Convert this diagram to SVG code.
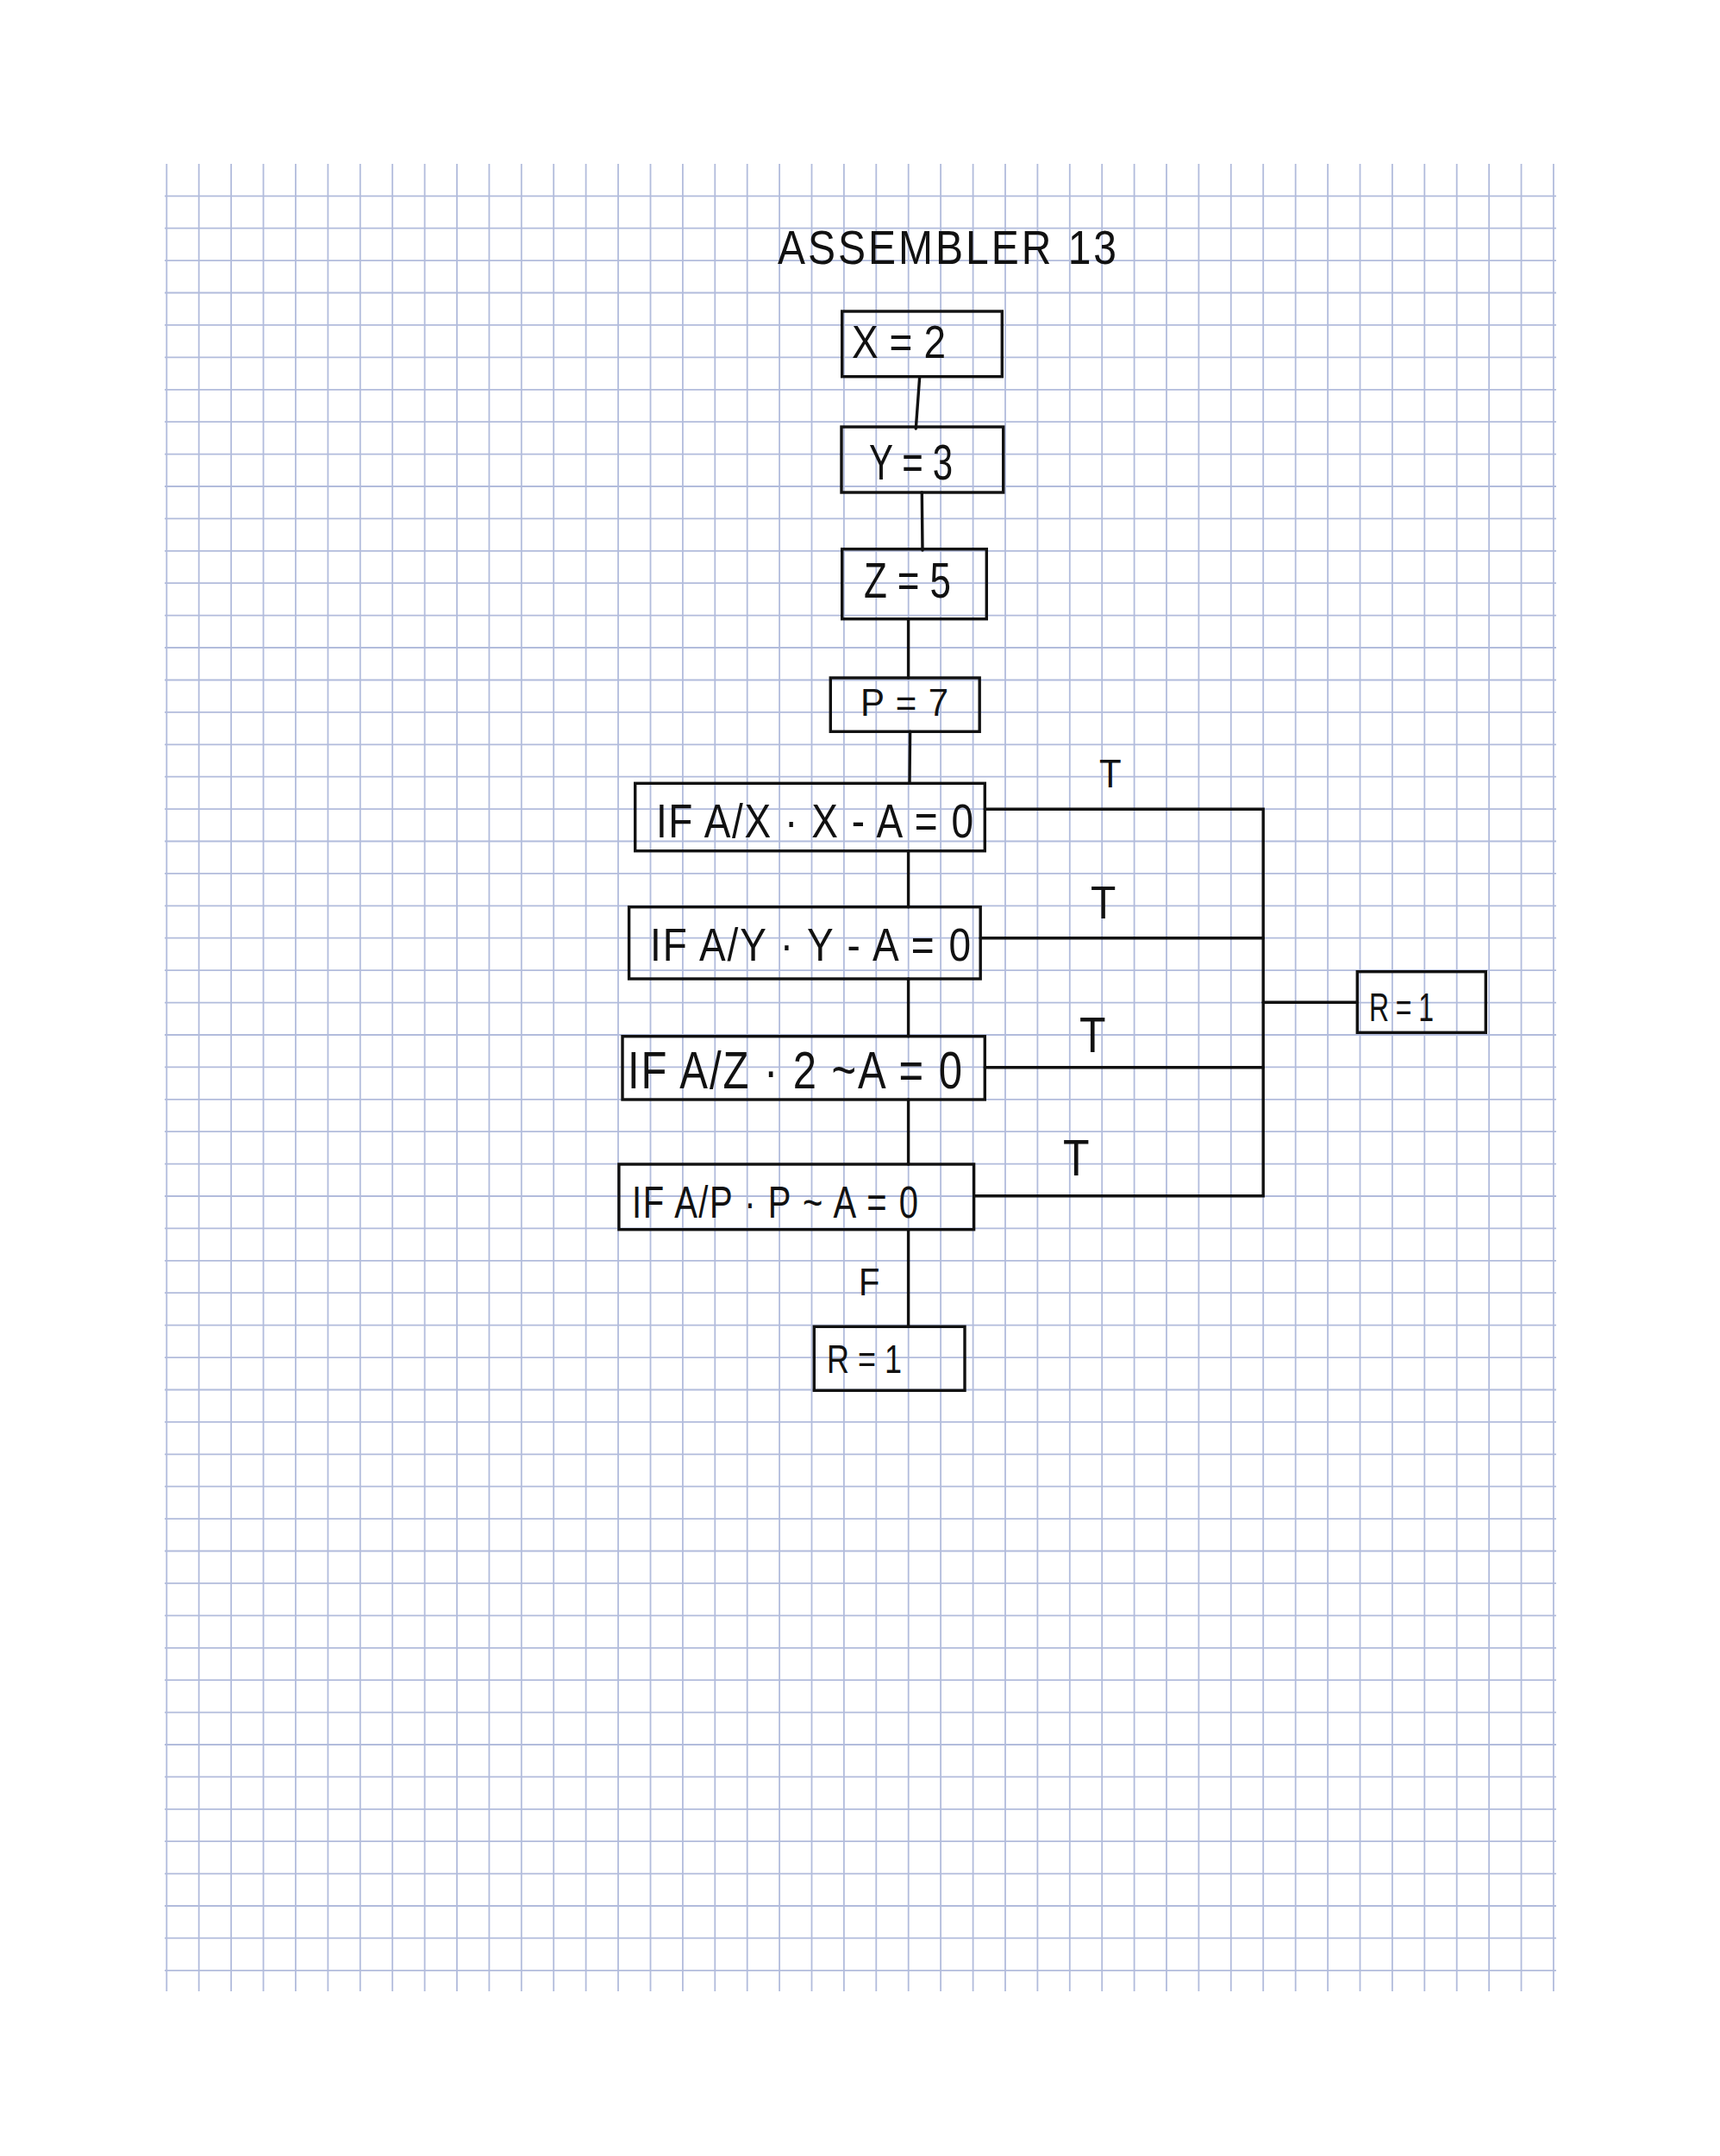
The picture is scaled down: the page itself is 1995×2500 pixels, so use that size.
<svg xmlns="http://www.w3.org/2000/svg" width="1995" height="2500" viewBox="0 0 1995 2500">
<style>
.grid{stroke:#b2bcdc;stroke-width:1.8;fill:none}
.box{fill:none;stroke:#111;stroke-width:3.4}
.edge{fill:none;stroke:#111;stroke-width:3.4;stroke-linecap:round}
.t{font-family:"Liberation Sans",Arial,sans-serif;fill:#111}
</style>
<rect width="1995" height="2500" fill="#ffffff"/>
<g id="grid">
<path class="grid" d="M193.3 190V2309M230.7 190V2309M268.1 190V2309M305.5 190V2309M342.9 190V2309M380.4 190V2309M417.8 190V2309M455.2 190V2309M492.6 190V2309M530 190V2309M567.4 190V2309M604.8 190V2309M642.2 190V2309M679.6 190V2309M717 190V2309M754.5 190V2309M791.9 190V2309M829.3 190V2309M866.7 190V2309M904.1 190V2309M941.5 190V2309M978.9 190V2309M1016.3 190V2309M1053.7 190V2309M1091.1 190V2309M1128.6 190V2309M1166 190V2309M1203.4 190V2309M1240.8 190V2309M1278.2 190V2309M1315.6 190V2309M1353 190V2309M1390.4 190V2309M1427.8 190V2309M1465.2 190V2309M1502.7 190V2309M1540.1 190V2309M1577.5 190V2309M1614.9 190V2309M1652.3 190V2309M1689.7 190V2309M1727.1 190V2309M1764.5 190V2309M1801.9 190V2309"/>
<path class="grid" d="M191 227.3H1805M191 264.7H1805M191 302.1H1805M191 339.5H1805M191 376.9H1805M191 414.4H1805M191 451.8H1805M191 489.2H1805M191 526.6H1805M191 564H1805M191 601.4H1805M191 638.8H1805M191 676.2H1805M191 713.6H1805M191 751H1805M191 788.5H1805M191 825.9H1805M191 863.3H1805M191 900.7H1805M191 938.1H1805M191 975.5H1805M191 1012.9H1805M191 1050.3H1805M191 1087.7H1805M191 1125.1H1805M191 1162.6H1805M191 1200H1805M191 1237.4H1805M191 1274.8H1805M191 1312.2H1805M191 1349.6H1805M191 1387H1805M191 1424.4H1805M191 1461.8H1805M191 1499.2H1805M191 1536.7H1805M191 1574.1H1805M191 1611.5H1805M191 1648.9H1805M191 1686.3H1805M191 1723.7H1805M191 1761.1H1805M191 1798.5H1805M191 1835.9H1805M191 1873.3H1805M191 1910.8H1805M191 1948.2H1805M191 1985.6H1805M191 2023H1805M191 2060.4H1805M191 2097.8H1805M191 2135.2H1805M191 2172.6H1805M191 2210H1805M191 2247.4H1805M191 2284.8H1805"/>
</g>
<text id="title" class="t" transform="translate(902 306) scale(1 1.17)" font-size="48" textLength="393" lengthAdjust="spacing">ASSEMBLER 13</text>
<g id="connectors">
<path class="edge" d="M1066.7 436.7L1062.3 497"/>
<path class="edge" d="M1069.3 571L1070 638"/>
<path class="edge" d="M1053.6 717.7V786"/>
<path class="edge" d="M1055.6 848.3L1055 908"/>
<path class="edge" d="M1053.6 986.7V1051.7"/>
<path class="edge" d="M1053.6 1135V1201.7"/>
<path class="edge" d="M1053.6 1275V1350"/>
<path class="edge" d="M1053.6 1425.7V1538.3"/>
<path class="edge" d="M1142.3 938.3H1465.2V1386.7H1129.6"/>
<path class="edge" d="M1137.2 1087.7H1465.2"/>
<path class="edge" d="M1142.3 1237.7H1465.2"/>
<path class="edge" d="M1465.2 1162.3H1574.3"/>
<text class="t" transform="translate(1275 913) scale(1 1.1)" font-size="42">T</text>
<text class="t" transform="translate(1265 1065) scale(1 1.1)" font-size="48">T</text>
<text class="t" transform="translate(1252 1220) scale(1 1.15)" font-size="50">T</text>
<text class="t" transform="translate(1233 1363) scale(1 1.2)" font-size="50">T</text>
<text class="t" transform="translate(996 1502) scale(1 1.1)" font-size="40">F</text>
</g>
<g id="n_x">
<rect class="box" x="976.7" y="361" width="185.6" height="75.7"/>
<text class="t" transform="translate(988 415) scale(1 1.15)" font-size="46" textLength="109" lengthAdjust="spacing">X = 2</text>
</g>
<g id="n_y">
<rect class="box" x="976" y="495" width="187.7" height="76"/>
<text class="t" transform="translate(1008 556) scale(1 1.35)" font-size="42" textLength="97" lengthAdjust="spacing">Y = 3</text>
</g>
<g id="n_z">
<rect class="box" x="976.7" y="636.7" width="167.6" height="81"/>
<text class="t" transform="translate(1002 693) scale(1 1.3)" font-size="44" textLength="101" lengthAdjust="spacing">Z = 5</text>
</g>
<g id="n_p">
<rect class="box" x="963.3" y="786" width="172.9" height="62.3"/>
<text class="t" transform="translate(998 830) scale(1 1.05)" font-size="42" textLength="102" lengthAdjust="spacing">P = 7</text>
</g>
<g id="n_if1">
<rect class="box" x="736.7" y="908.3" width="405.6" height="78.4"/>
<text class="t" transform="translate(761 971) scale(1 1.22)" font-size="46" textLength="368" lengthAdjust="spacing">IF  A/X · X - A = 0</text>
</g>
<g id="n_if2">
<rect class="box" x="729.6" y="1051.7" width="407.6" height="83.3"/>
<text class="t" transform="translate(754 1114) scale(1 1.15)" font-size="46" textLength="372" lengthAdjust="spacing">IF  A/Y · Y - A = 0</text>
</g>
<g id="n_if3">
<rect class="box" x="722" y="1201.7" width="420.3" height="73.3"/>
<text class="t" transform="translate(728 1262) scale(1 1.25)" font-size="49" textLength="388" lengthAdjust="spacing">IF  A/Z · 2 ~A = 0</text>
</g>
<g id="n_if4">
<rect class="box" x="717.9" y="1350" width="411.7" height="75.7"/>
<text class="t" transform="translate(733 1412) scale(1 1.3)" font-size="40" textLength="332" lengthAdjust="spacing">IF  A/P · P ~ A = 0</text>
</g>
<g id="n_r_bottom">
<rect class="box" x="944.3" y="1538.3" width="174.7" height="74"/>
<text class="t" transform="translate(959 1592) scale(1 1.27)" font-size="36" textLength="87" lengthAdjust="spacing">R = 1</text>
</g>
<g id="n_r_right">
<rect class="box" x="1574.3" y="1126.7" width="149" height="70.6"/>
<text class="t" transform="translate(1588 1184) scale(1 1.45)" font-size="32" textLength="75" lengthAdjust="spacing">R = 1</text>
</g>
</svg>
